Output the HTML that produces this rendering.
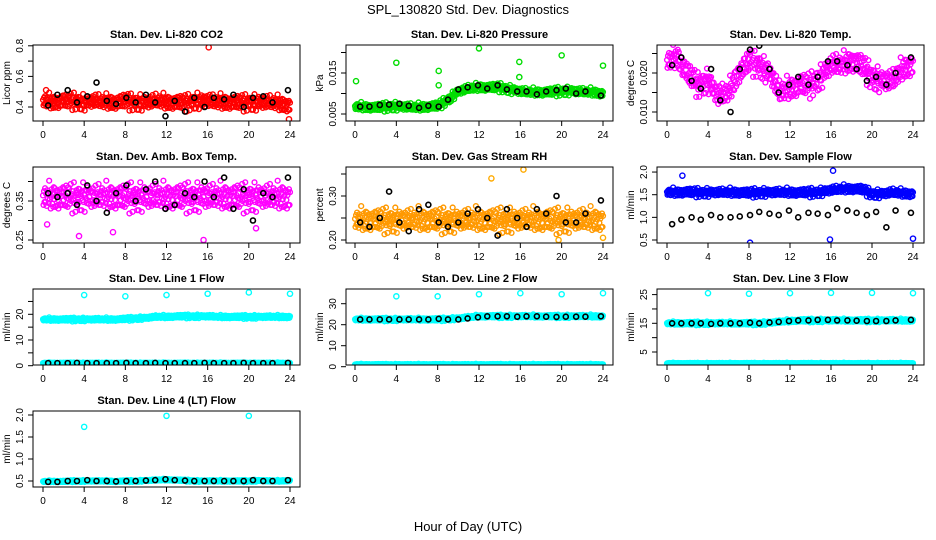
<!DOCTYPE html>
<html><head><meta charset="utf-8"><style>
html,body{margin:0;padding:0;background:#fff}
svg{display:block;font-family:"Liberation Sans",sans-serif}
</style></head><body>
<svg id="chart" width="936" height="540" viewBox="0 0 936 540">
<text x="468" y="14" text-anchor="middle" font-size="13">SPL_130820  Std. Dev. Diagnostics</text>
<text x="468" y="531" text-anchor="middle" font-size="13">Hour of Day (UTC)</text>
</svg>
<script>
// ---- data ----
const xTicks=[0,4,8,12,16,20,24];
const blackX=[0.5,1.4,2.4,3.3,4.3,5.2,6.2,7.1,8.1,9.0,10.0,10.9,11.9,12.8,13.8,14.7,15.7,16.6,17.6,18.5,19.5,20.4,21.4,22.3,23.8];
const jitter=[0.1,-0.8,0.6,-0.3,0.9,-0.5,0.2,-0.9,0.7,-0.1,0.4,-0.6,1.0,-0.2,0.5,-0.7,0.0,0.8,-0.4,0.3,-1.0,0.6,-0.2,0.9,-0.6,0.1,-0.9,0.4,0.7,-0.3,-0.7,0.2,0.5,-0.5,0.8,-0.8,0.3];

const co2Center=[0.44,0.43,0.44,0.44,0.43,0.44,0.43,0.43,0.44,0.43,0.43,0.44,0.43,0.43,0.43,0.44,0.44,0.43,0.43,0.43,0.43,0.43,0.43,0.42,0.41];
const co2Black=[0.41,0.48,0.51,0.43,0.47,0.56,0.44,0.42,0.46,0.43,0.48,0.43,0.34,0.44,0.37,0.46,0.40,0.46,0.45,0.48,0.40,0.46,0.47,0.43,0.51];
const co2Out=[[16.1,0.79],[0.3,0.51],[23.9,0.32]];

const presCenter=[0.0068,0.0067,0.0066,0.0068,0.0069,0.0067,0.0066,0.0068,0.0070,0.0085,0.0105,0.0112,0.0115,0.0115,0.0115,0.0110,0.0105,0.0103,0.0103,0.0104,0.0106,0.0106,0.0104,0.0103,0.0100];
const presBlack=[0.0068,0.0068,0.0072,0.0073,0.0075,0.0070,0.0065,0.0070,0.0068,0.0085,0.0110,0.0115,0.0120,0.0112,0.0120,0.0110,0.0105,0.0105,0.0098,0.0105,0.0108,0.0112,0.0100,0.0105,0.0095];
const presOut=[[0.1,0.013],[4,0.0175],[8.1,0.0155],[8.1,0.012],[12,0.021],[15.9,0.0177],[15.9,0.014],[20,0.0193],[24,0.0168]];

const tempCenter=[0.023,0.024,0.020,0.017,0.018,0.014,0.015,0.020,0.023,0.022,0.020,0.015,0.016,0.017,0.017,0.019,0.022,0.022,0.023,0.022,0.019,0.018,0.018,0.021,0.022];
const tempBlack=[0.022,0.024,0.018,0.016,0.021,0.013,0.010,0.021,0.026,0.027,0.021,0.015,0.017,0.019,0.017,0.019,0.023,0.023,0.022,0.021,0.018,0.019,0.017,0.020,0.024];

const ambCenter=[0.36,0.36,0.36,0.36,0.36,0.36,0.36,0.36,0.36,0.36,0.36,0.36,0.36,0.36,0.36,0.36,0.36,0.36,0.36,0.36,0.36,0.36,0.36,0.36,0.36];
const ambBlack=[0.37,0.36,0.37,0.34,0.39,0.35,0.32,0.37,0.39,0.35,0.38,0.40,0.33,0.34,0.37,0.36,0.40,0.36,0.41,0.33,0.38,0.30,0.37,0.36,0.41];
const ambOut=[[0.4,0.29],[3.5,0.26],[6.8,0.27],[15.6,0.25],[20.7,0.28]];

const rhCenter=[0.245,0.245,0.245,0.245,0.245,0.245,0.245,0.245,0.245,0.245,0.245,0.245,0.245,0.245,0.245,0.245,0.245,0.245,0.245,0.245,0.245,0.245,0.245,0.245,0.245];
const rhBlack=[0.24,0.23,0.25,0.31,0.24,0.22,0.27,0.28,0.24,0.23,0.24,0.26,0.27,0.25,0.21,0.27,0.25,0.23,0.27,0.26,0.30,0.24,0.24,0.26,0.29];
const rhOut=[[13.2,0.34],[16.3,0.36],[19.7,0.2],[24,0.205]];

const flowCenter=[1.55,1.55,1.56,1.55,1.55,1.55,1.55,1.55,1.54,1.55,1.55,1.55,1.55,1.55,1.55,1.56,1.60,1.62,1.63,1.62,1.52,1.52,1.55,1.53,1.52];
const flowBlack=[0.85,0.95,1.0,0.95,1.05,1.0,1.0,1.02,1.05,1.12,1.08,1.05,1.15,1.0,1.1,1.08,1.05,1.2,1.15,1.1,1.05,1.12,0.78,1.15,1.1];
const flowOut=[[8.1,0.44],[15.9,0.51],[16.2,2.03],[24,0.53],[1.5,1.92]];

const line1Center=[18,18,18,18,18,18,18,18,18.2,18.4,18.6,19,19,19.2,19.2,19.2,19.2,19,19,19,19,19,19,19,19];
const line1Low=[1,1,1,1,1,1,1,1,1,1,1,1,1,1,1,1,1,1,1,1,1,1,1,1,1];
const line1Black=[1,1,1,1.1,1,1,1,1,1.1,1,1,1.1,1,1,1,1,1.1,1,1,1,1.1,1,1,1,1.1];
const line1Out=[[4,27.5],[8,27],[12,27.5],[16,28],[20,28.5],[24,28]];

const line2Center=[22.5,22.5,22.5,22.5,22.5,22.5,22.5,22.5,22.5,22.7,23,23.5,24,24,24,24,24,24,24,24,24,24,24,24,24];
const line2Low=[1,1,1,1,1,1,1,1,1,1,1,1,1,1,1,1,1,1,1,1,1,1,1,1,1];
const line2Black=[22.5,22.5,22.5,22.5,22.5,22.5,22.5,22.5,22.8,22.5,22.5,23,23.5,24,24,24,23.8,24,24,23.8,23.7,23.8,23.8,23.8,24];
const line2Out=[[4,33.5],[8,33.5],[12,34.5],[16,35],[20,34.5],[24,35]];

const line3Center=[15,15,15,15,15,15,15,15,15,15,15.2,15.5,15.8,16,16,16,16,16,16,16,16,16,16,16,16];
const line3Low=[1,1,1,1,1,1,1,1,1,1,1,1,1,1,1,1,1,1,1,1,1,1,1,1,1];
const line3Black=[15,15,15,15,14.8,15,15,15,15.2,15,15.3,15.5,15.8,16,16,16.2,16.2,16,16,15.9,15.8,15.8,15.8,16,16.2];
const line3Out=[[4,25.5],[8,25.3],[12,25.5],[16,25.6],[20,25.6],[24,25.5]];

const line4Center=[0.49,0.49,0.49,0.5,0.5,0.5,0.5,0.49,0.5,0.5,0.51,0.52,0.53,0.52,0.51,0.5,0.5,0.5,0.5,0.5,0.5,0.51,0.5,0.5,0.51];
const line4Black=[0.48,0.48,0.5,0.5,0.52,0.5,0.5,0.49,0.5,0.5,0.51,0.52,0.54,0.52,0.51,0.5,0.5,0.5,0.5,0.5,0.5,0.52,0.5,0.5,0.52];
const line4Out=[[4,1.73],[12,1.98],[20,1.98]];

// ---- layout ----
const NS="http://www.w3.org/2000/svg";
const svg=document.getElementById('chart');
const boxL=[33,346,657], boxR=[300,613,924], x0p=[43,355,667], x24p=[290,603,913];
const rowTop=[45,167,289,411], boxH=76;
function mk(tag,attrs,parent){const e=document.createElementNS(NS,tag);for(const k in attrs)e.setAttribute(k,attrs[k]);(parent||svg).appendChild(e);return e;}

function panel(p){
  const g=mk('g',{});
  
  
  const c=p.col, top=rowTop[p.row], bot=top+boxH;
  const xs=h=>x0p[c]+h*(x24p[c]-x0p[c])/24;
  const ys=v=>p.yp0-(v-p.yv0)*p.ysc;
  const t=mk('text',{x:(boxL[c]+boxR[c])/2,y:top-7,'text-anchor':'middle','font-size':11,'font-weight':'bold'},g);
  t.textContent=p.title;
  
  
  const clip='clip'+p.name;
  const cp=mk('clipPath',{id:clip},g);mk('rect',{x:boxL[c],y:top,width:boxR[c]-boxL[c],height:boxH},cp);
  const pts=mk('g',{'clip-path':'url(#'+clip+')',fill:'none','stroke-width':1.4},g);
  
  
  (p.clouds||[]).forEach(cl=>{
    let i=0;
    for(let h=0;h<=24.001;h+=0.05,i++){
      const k=Math.min(23,Math.floor(h)), f=h-k;
      const v=cl.center[k]*(1-f)+cl.center[k+1]*f+cl.spread*jitter[i%jitter.length]*(i%3===0?1:0.6);
      const e=mk('circle',{cx:xs(h),cy:ys(v),r:2.4,stroke:cl.color},pts);
      
      
    }
  });
  (p.out||[]).forEach(o=>{
    const e=mk('circle',{cx:xs(o[0]),cy:ys(o[1]),r:2.6,stroke:p.outColor},pts);
    
    
  });
  p.black.forEach((v,i)=>{
    const e=mk('circle',{cx:xs(blackX[i]),cy:ys(v),r:2.5,stroke:'#000','stroke-width':1.6},pts);
    
    
  });
  const bx=mk('rect',{x:boxL[c],y:top,width:boxR[c]-boxL[c],height:boxH,fill:'none',stroke:'#000','stroke-width':1},g);
  
  
  xTicks.forEach(h=>{
    mk('line',{x1:xs(h),x2:xs(h),y1:bot,y2:bot+5,stroke:'#000'},g);
    const l=mk('text',{x:xs(h),y:bot+17,'text-anchor':'middle','font-size':10},g);l.textContent=h;
    
    
  });
  p.ticks.forEach((v,i)=>{
    const y=ys(v);
    mk('line',{x1:boxL[c]-5,x2:boxL[c],y1:y,y2:y,stroke:'#000'},g);
    if(p.labels[i]){const l=mk('text',{x:0,y:0,'text-anchor':'middle','font-size':10,transform:`translate(${boxL[c]-10},${y}) rotate(-90)`},g);l.textContent=p.labels[i];
    
    }
  });
  const yl=mk('text',{x:0,y:0,'text-anchor':'middle','font-size':10,transform:`translate(${boxL[c]-23},${top+boxH/2}) rotate(-90)`},g);
  yl.textContent=p.ylab;
  
  
}

panel({name:'co2-panel',col:0,row:0,title:'Stan. Dev. Li-820 CO2',ylab:'Licor ppm',yv0:0.4,yp0:107,ysc:153,
  ticks:[0.4,0.5,0.6,0.7,0.8],labels:['0.4','','0.6','','0.8'],clouds:[{center:co2Center,spread:0.06,color:'#ff0000'}],black:co2Black,out:co2Out,outColor:'#ff0000'});
panel({name:'pressure-panel',col:1,row:0,title:'Stan. Dev. Li-820 Pressure',ylab:'kPa',yv0:0.005,yp0:114,ysc:4100,
  ticks:[0.005,0.010,0.015,0.020],labels:['0.005','','0.015',''],clouds:[{center:presCenter,spread:0.0012,color:'#00dd00'}],black:presBlack,out:presOut,outColor:'#00dd00'});
panel({name:'temp-panel',col:2,row:0,title:'Stan. Dev. Li-820 Temp.',ylab:'degrees C',yv0:0.010,yp0:112,ysc:3900,
  ticks:[0.010,0.015,0.020,0.025],labels:['0.010','','0.020',''],clouds:[{center:tempCenter,spread:0.0036,color:'#ff00ff'}],black:tempBlack,out:[],outColor:'#ff00ff'});
panel({name:'ambbox-panel',col:0,row:1,title:'Stan. Dev. Amb. Box Temp.',ylab:'degrees C',yv0:0.25,yp0:240,ysc:390,
  ticks:[0.25,0.30,0.35,0.40],labels:['0.25','','0.35',''],clouds:[{center:ambCenter,spread:0.042,color:'#ff00ff'}],black:ambBlack,out:ambOut,outColor:'#ff00ff'});
panel({name:'rh-panel',col:1,row:1,title:'Stan. Dev. Gas Stream RH',ylab:'percent',yv0:0.20,yp0:240,ysc:440,
  ticks:[0.20,0.25,0.30,0.35],labels:['0.20','','0.30',''],clouds:[{center:rhCenter,spread:0.032,color:'#ff9900'}],black:rhBlack,out:rhOut,outColor:'#ffaa00'});
panel({name:'sampleflow-panel',col:2,row:1,title:'Stan. Dev. Sample Flow',ylab:'ml/min',yv0:0.5,yp0:240,ysc:45.3,
  ticks:[0.5,1.0,1.5,2.0],labels:['0.5','1.0','1.5','2.0'],clouds:[{center:flowCenter,spread:0.11,color:'#0000ff'}],black:flowBlack,out:flowOut,outColor:'#0000ff'});
panel({name:'line1-panel',col:0,row:2,title:'Stan. Dev. Line 1 Flow',ylab:'ml/min',yv0:0,yp0:365.7,ysc:2.57,
  ticks:[0,5,10,15,20,25],labels:['0','','10','','20',''],clouds:[{center:line1Center,spread:0.8,color:'#00ffff'},{center:line1Low,spread:0.3,color:'#00ffff'}],black:line1Black,out:line1Out,outColor:'#00ffff'});
panel({name:'line2-panel',col:1,row:2,title:'Stan. Dev. Line 2 Flow',ylab:'ml/min',yv0:0,yp0:366.7,ysc:2.1,
  ticks:[0,10,20,30],labels:['0','10','20','30'],clouds:[{center:line2Center,spread:0.9,color:'#00ffff'},{center:line2Low,spread:0.4,color:'#00ffff'}],black:line2Black,out:line2Out,outColor:'#00ffff'});
panel({name:'line3-panel',col:2,row:2,title:'Stan. Dev. Line 3 Flow',ylab:'ml/min',yv0:5,yp0:352,ysc:2.87,
  ticks:[5,10,15,20,25],labels:['5','','15','','25'],clouds:[{center:line3Center,spread:0.7,color:'#00ffff'},{center:line3Low,spread:0.3,color:'#00ffff'}],black:line3Black,out:line3Out,outColor:'#00ffff'});
panel({name:'line4-panel',col:0,row:3,title:'Stan. Dev. Line 4 (LT) Flow',ylab:'ml/min',yv0:0.5,yp0:481,ysc:44,
  ticks:[0.5,1.0,1.5,2.0],labels:['0.5','1.0','1.5','2.0'],clouds:[{center:line4Center,spread:0.025,color:'#00ffff'}],black:line4Black,out:line4Out,outColor:'#00ffff'});
</script>
</body></html>
